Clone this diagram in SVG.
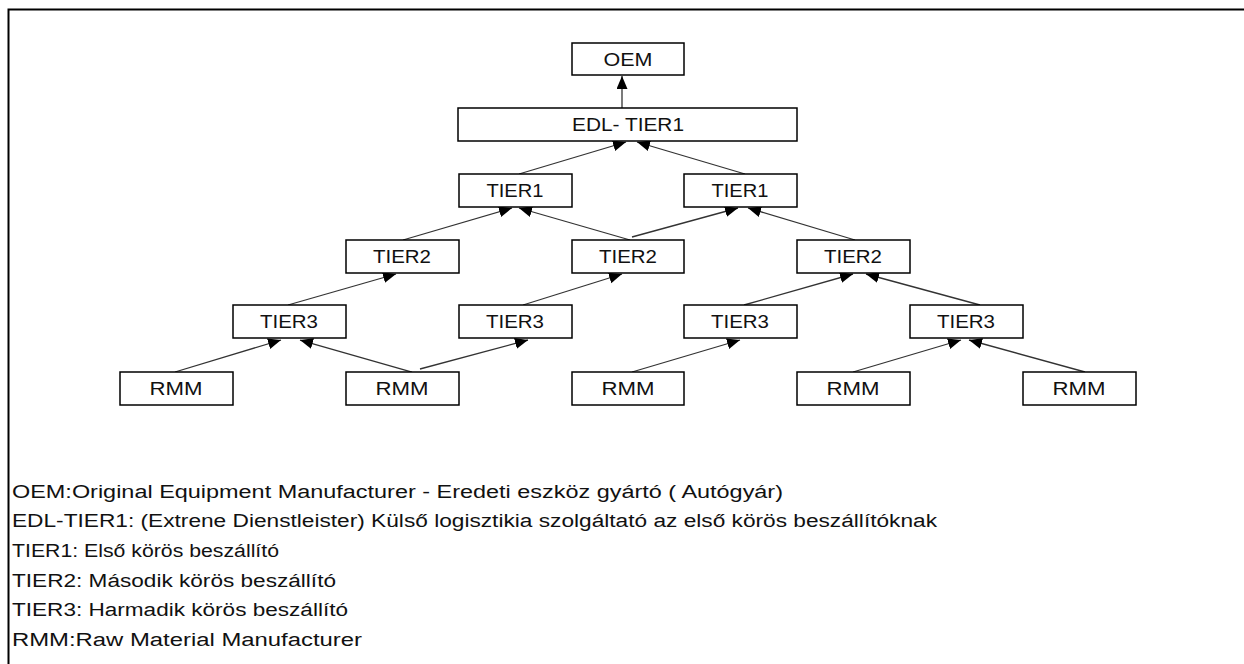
<svg xmlns="http://www.w3.org/2000/svg" width="1244" height="664" viewBox="0 0 1244 664">
<defs>
<style>
.box{fill:#fff;stroke:#000;stroke-width:1.5}
.lbl{font-family:"Liberation Sans",Arial,sans-serif;font-size:19px;fill:#111;text-anchor:middle}
.leg{font-family:"Liberation Sans",Arial,sans-serif;font-size:18px;fill:#111}
.edge{stroke:#333;stroke-width:1.3;fill:none;marker-end:url(#ah)}
</style>
<marker id="ah" markerWidth="14" markerHeight="12" refX="13" refY="5.5" orient="auto" markerUnits="userSpaceOnUse"><path d="M0,0 L13,5.5 L0,11 z" fill="#000"/></marker>
</defs>
<rect x="0" y="0" width="1244" height="664" fill="#fff"/>
<path d="M8.5,664 V9.5 H1244" fill="none" stroke="#000" stroke-width="2"/>
<g id="connectors">
<line class="edge" x1="622" y1="108" x2="622" y2="76"/>
<line class="edge" x1="519" y1="174" x2="626" y2="142"/>
<line class="edge" x1="745" y1="174" x2="637" y2="142"/>
<line class="edge" x1="403" y1="240" x2="512" y2="208"/>
<line class="edge" x1="630" y1="240" x2="519" y2="208"/>
<line class="edge" x1="632" y1="237" x2="738" y2="208"/>
<line class="edge" x1="855" y1="240" x2="748" y2="208"/>
<line class="edge" x1="288" y1="305" x2="396" y2="274"/>
<line class="edge" x1="523" y1="305" x2="622" y2="274"/>
<line class="edge" x1="744" y1="305" x2="853" y2="274"/>
<line class="edge" x1="980" y1="305" x2="866" y2="274"/>
<line class="edge" x1="175" y1="372" x2="281" y2="340"/>
<line class="edge" x1="412" y1="372" x2="300" y2="340"/>
<line class="edge" x1="420" y1="369" x2="528" y2="340"/>
<line class="edge" x1="632" y1="372" x2="740" y2="340"/>
<line class="edge" x1="853" y1="372" x2="961" y2="340"/>
<line class="edge" x1="1085" y1="372" x2="969" y2="340"/>
</g>
<g id="oem"><rect class="box" x="572" y="43" width="112" height="32"/><text class="lbl" x="628" y="66" textLength="49" lengthAdjust="spacingAndGlyphs">OEM</text></g>
<g id="edl"><rect class="box" x="458" y="108" width="339" height="33"/><text class="lbl" x="628" y="131" textLength="112" lengthAdjust="spacingAndGlyphs">EDL- TIER1</text></g>
<g id="tier1a"><rect class="box" x="459" y="174" width="113" height="33"/><text class="lbl" x="515" y="197" textLength="57" lengthAdjust="spacingAndGlyphs">TIER1</text></g>
<g id="tier1b"><rect class="box" x="684" y="174" width="113" height="33"/><text class="lbl" x="740" y="197" textLength="57" lengthAdjust="spacingAndGlyphs">TIER1</text></g>
<g id="tier2a"><rect class="box" x="346" y="240" width="113" height="33"/><text class="lbl" x="402" y="263" textLength="58" lengthAdjust="spacingAndGlyphs">TIER2</text></g>
<g id="tier2b"><rect class="box" x="572" y="240" width="112" height="33"/><text class="lbl" x="628" y="263" textLength="58" lengthAdjust="spacingAndGlyphs">TIER2</text></g>
<g id="tier2c"><rect class="box" x="797" y="240" width="113" height="33"/><text class="lbl" x="853" y="263" textLength="58" lengthAdjust="spacingAndGlyphs">TIER2</text></g>
<g id="tier3a"><rect class="box" x="233" y="305" width="113" height="33"/><text class="lbl" x="289" y="328" textLength="58" lengthAdjust="spacingAndGlyphs">TIER3</text></g>
<g id="tier3b"><rect class="box" x="459" y="305" width="113" height="33"/><text class="lbl" x="515" y="328" textLength="58" lengthAdjust="spacingAndGlyphs">TIER3</text></g>
<g id="tier3c"><rect class="box" x="684" y="305" width="113" height="33"/><text class="lbl" x="740" y="328" textLength="58" lengthAdjust="spacingAndGlyphs">TIER3</text></g>
<g id="tier3d"><rect class="box" x="910" y="305" width="113" height="33"/><text class="lbl" x="966" y="328" textLength="58" lengthAdjust="spacingAndGlyphs">TIER3</text></g>
<g id="rmma"><rect class="box" x="120" y="372" width="113" height="33"/><text class="lbl" x="176" y="395" textLength="53" lengthAdjust="spacingAndGlyphs">RMM</text></g>
<g id="rmmb"><rect class="box" x="346" y="372" width="113" height="33"/><text class="lbl" x="402" y="395" textLength="53" lengthAdjust="spacingAndGlyphs">RMM</text></g>
<g id="rmmc"><rect class="box" x="572" y="372" width="112" height="33"/><text class="lbl" x="628" y="395" textLength="53" lengthAdjust="spacingAndGlyphs">RMM</text></g>
<g id="rmmd"><rect class="box" x="797" y="372" width="113" height="33"/><text class="lbl" x="853" y="395" textLength="53" lengthAdjust="spacingAndGlyphs">RMM</text></g>
<g id="rmme"><rect class="box" x="1023" y="372" width="113" height="33"/><text class="lbl" x="1079" y="395" textLength="53" lengthAdjust="spacingAndGlyphs">RMM</text></g>
<g id="legend">
<text class="leg" x="12" y="498" textLength="771" lengthAdjust="spacingAndGlyphs">OEM:Original Equipment Manufacturer - Eredeti eszköz gyártó ( Autógyár)</text>
<text class="leg" x="12" y="527" textLength="925" lengthAdjust="spacingAndGlyphs">EDL-TIER1: (Extrene Dienstleister) Külső logisztikia szolgáltató az első körös beszállítóknak</text>
<text class="leg" x="12" y="557" textLength="267" lengthAdjust="spacingAndGlyphs">TIER1: Első körös beszállító</text>
<text class="leg" x="12" y="587" textLength="324" lengthAdjust="spacingAndGlyphs">TIER2: Második körös beszállító</text>
<text class="leg" x="12" y="616" textLength="336" lengthAdjust="spacingAndGlyphs">TIER3: Harmadik körös beszállító</text>
<text class="leg" x="12" y="646" textLength="350" lengthAdjust="spacingAndGlyphs">RMM:Raw Material Manufacturer</text>
</g>
</svg>
